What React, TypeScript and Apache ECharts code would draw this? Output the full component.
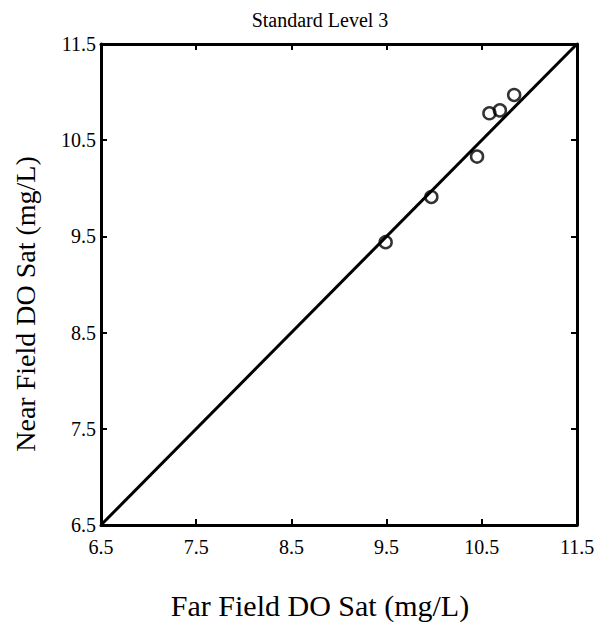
import React, { useEffect, useRef } from "react";
import * as echarts from "echarts";

const farField = [9.49, 9.97, 10.45, 10.58, 10.69, 10.84];
const nearField = [9.44, 9.91, 10.33, 10.78, 10.81, 10.97];
const lineX = [6.5, 11.5];
const lineY = [6.5, 11.5];
const axisMin = 6.5;
const axisMax = 11.5;
const axisStep = 1;
const titleText = "Standard Level 3";
const xTitle = "Far Field DO Sat (mg/L)";
const yTitle = "Near Field DO Sat (mg/L)";

const FONT = "Liberation Serif";

export default function App() {
  const ref = useRef<HTMLDivElement>(null);
  useEffect(() => {
    if (!ref.current) return;
    const chart = echarts.init(ref.current, null, { renderer: "svg" });
    const tickStyle = { show: true, inside: true, length: 6, lineStyle: { color: "#000", width: 2 } };
    const baseAxis = {
      type: "value" as const,
      min: axisMin,
      max: axisMax,
      interval: axisStep,
      splitLine: { show: false },
      axisLine: { show: true, onZero: false, lineStyle: { color: "#000", width: 3 } },
      axisTick: tickStyle,
    };
    chart.setOption({
      animation: false,
      backgroundColor: "#fff",
      grid: { left: 93, right: 24, top: 36, bottom: 104, show: false, containLabel: false, outerBoundsMode: "none" },
      graphic: [
        {
          type: "text",
          x: 312,
          y: 12,
          style: { text: titleText, fontFamily: FONT, fontSize: 20, fill: "#000", align: "center", verticalAlign: "middle" },
        },
        {
          type: "text",
          x: 312,
          y: 597,
          style: { text: xTitle, fontFamily: FONT, fontSize: 30, fill: "#000", align: "center", verticalAlign: "middle" },
        },
        {
          type: "text",
          x: 17,
          y: 296,
          rotation: Math.PI / 2,
          style: { text: yTitle, fontFamily: FONT, fontSize: 28, fill: "#000", align: "center", verticalAlign: "middle" },
        },
      ],
      xAxis: [
        {
          ...baseAxis,
          position: "bottom",
          axisLabel: {
            fontFamily: FONT,
            fontSize: 20,
            color: "#000",
            margin: 12,
            formatter: (v: number) => v.toFixed(1),
          },
        },
        {
          ...baseAxis,
          position: "top",
          axisLabel: { show: false },
        },
      ],
      yAxis: [
        {
          ...baseAxis,
          position: "left",
          axisLabel: {
            fontFamily: FONT,
            fontSize: 20,
            color: "#000",
            margin: 5,
            padding: [0, 0, 14, 0],
            formatter: (v: number) => v.toFixed(1),
          },
        },
        {
          ...baseAxis,
          position: "right",
          axisLabel: { show: false },
        },
      ],
      series: [
        {
          type: "line",
          data: lineX.map((x, i) => [x, lineY[i]]),
          showSymbol: false,
          symbol: "none",
          lineStyle: { color: "#000", width: 3 },
          silent: true,
        },
        {
          type: "scatter",
          data: farField.map((x, i) => [x, nearField[i]]),
          symbol: "circle",
          symbolSize: 12,
          itemStyle: { color: "rgba(255,255,255,0)", borderColor: "#000", borderWidth: 2.5 },
        },
      ],
    });
    return () => chart.dispose();
  }, []);
  return <div ref={ref} style={{ width: 593, height: 621 }} />;
}
